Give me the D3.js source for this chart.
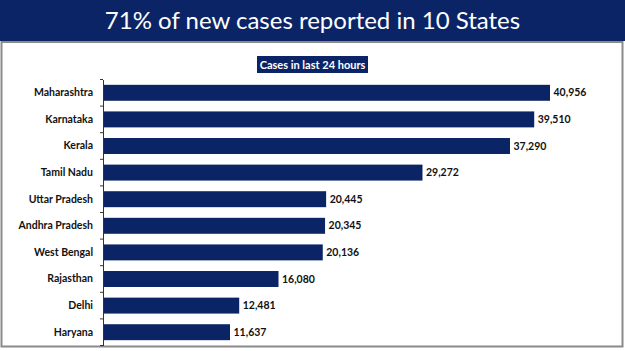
<!DOCTYPE html>
<html><head><meta charset="utf-8">
<script src="https://cdn.jsdelivr.net/npm/d3@7"></script>
<style>html,body{margin:0;padding:0;background:#fff;}svg{display:block;}</style>
</head><body>
<svg id="c" width="625" height="351"></svg>
<script>
const states = ["Maharashtra","Karnataka","Kerala","Tamil Nadu","Uttar Pradesh","Andhra Pradesh","West Bengal","Rajasthan","Delhi","Haryana"];
const cases = [40956,39510,37290,29272,20445,20345,20136,16080,12481,11637];
const title = "71% of new cases reported in 10 States";
const subtitle = "Cases in last 24 hours";

const svg = d3.select("#c");
const navy = "#0b2466";
svg.append("rect").attr("x",0).attr("y",0).attr("width",625).attr("height",351).attr("fill","#fff");
svg.append("rect").attr("x",1.5).attr("y",42).attr("width",621).attr("height",304.5).attr("fill","#fff").attr("stroke","#8a8a8a").attr("stroke-width",2);
svg.append("rect").attr("x",0).attr("y",0).attr("width",625).attr("height",41).attr("fill",navy);
svg.append("text").attr("x",312.5).attr("y",29).attr("text-anchor","middle").attr("fill","#fff")
  .attr("font-family","Lato, 'Open Sans', sans-serif").attr("font-size",24).text(title);

svg.append("rect").attr("x",257).attr("y",56).attr("width",111).attr("height",17).attr("fill",navy);
svg.append("text").attr("x",312.5).attr("y",68.5).attr("text-anchor","middle").attr("fill","#fff")
  .attr("font-family","Lato, sans-serif").attr("font-weight","bold").attr("font-size",11).text(subtitle);

const x = d3.scaleLinear().domain([0, d3.max(cases)]).range([103, 550]);
const y = d3.scaleBand().domain(states).range([79.5, 345.5]).paddingInner(0.4).paddingOuter(0.2);

const g = svg.append("g");
g.selectAll("rect.bar").data(states).join("rect").attr("class","bar")
  .attr("x", x(0)).attr("y", d=>y(d)).attr("width", (d,i)=>x(cases[i])-x(0)).attr("height", y.bandwidth())
  .attr("fill", navy);

g.selectAll("text.val").data(states).join("text").attr("class","val")
  .attr("x",(d,i)=>x(cases[i])+3.5).attr("y", d=>y(d)+y.bandwidth()/2).attr("dy","0.35em")
  .attr("font-family","Lato, sans-serif").attr("font-weight","bold").attr("font-size",10.5).attr("fill","#111")
  .text((d,i)=>d3.format(",")(cases[i]));

const ax = svg.append("g").attr("transform",`translate(${x(0)},0)`)
  .call(d3.axisLeft(y).tickSize(0).tickPadding(10));
ax.select(".domain").attr("stroke","#333").attr("stroke-width",1);
ax.selectAll("text").attr("font-family","Lato, sans-serif").attr("font-weight","bold").attr("font-size",10.5).attr("fill","#111");
const step = y.step();
const bounds = d3.range(states.length+1).map(i => 79.5 + i*step);
svg.append("g").selectAll("line").data(bounds).join("line")
  .attr("x1", x(0)-3).attr("x2", x(0)).attr("y1", d=>d).attr("y2", d=>d)
  .attr("stroke","#333").attr("stroke-width",1);
</script>
</body></html>
